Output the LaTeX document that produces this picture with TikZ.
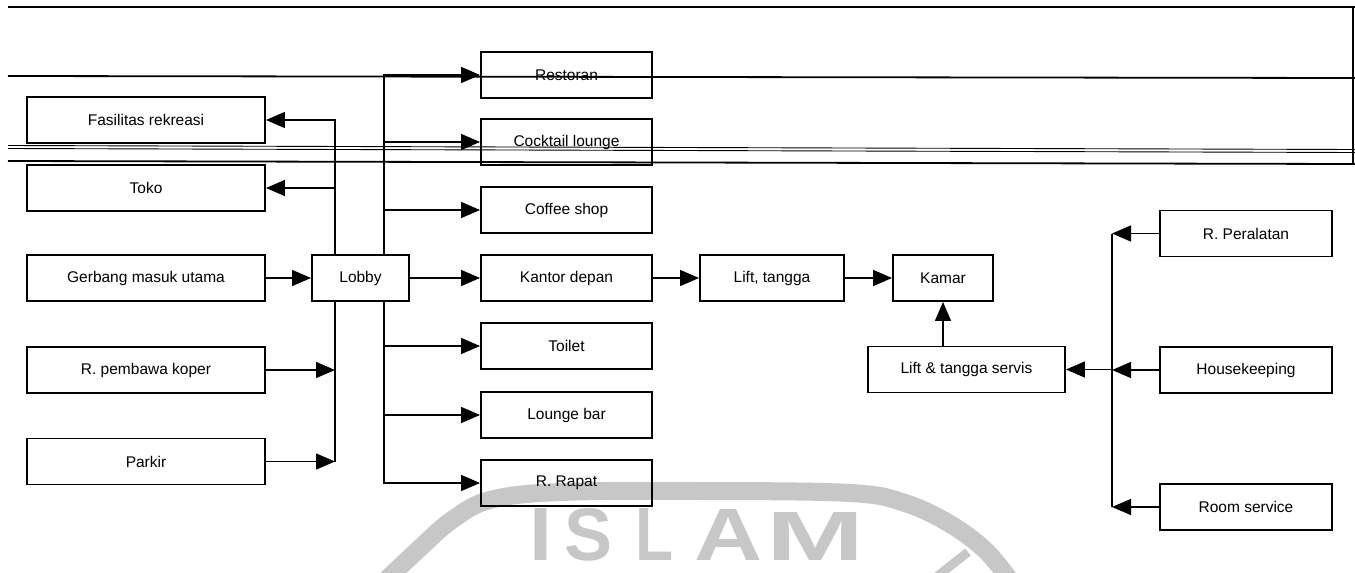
\documentclass[tikz,border=0pt]{standalone}
\usepackage{fontspec}
\usepackage{graphicx}
\setmainfont{Liberation Sans}
\usetikzlibrary{arrows.meta}
\tikzset{
  box/.style={draw=black, line width=1.9pt, inner sep=0pt, minimum height=46pt,
    font=\fontsize{15.5}{18}\selectfont},
  lbox/.style={box, minimum width=238pt},
  mbox/.style={box, minimum width=171pt},
  rbox/.style={box, minimum width=172pt},
  conn/.style={line width=1.4pt},
  arr/.style={conn, -{Triangle[length=19pt,width=16pt]}},
  scanline/.style={line width=1.8pt},
  wmark/.style={draw=black!22},
}
\begin{document}
\begin{tikzpicture}[x=1pt,y=-1pt]
\useasboundingbox (0,0) rectangle (1355,573);

% watermark (scanned logo)
\draw[wmark, line width=18pt] plot[smooth, tension=0.6] coordinates
  {(386,580) (420,548) (452,520) (490,500) (560,492) (700,491) (850,493) (905,503) (950,524) (985,550) (1010,580)};
\draw[wmark, line width=9pt] (935,578) -- (968,552);
\node[text=black!22, anchor=south west, inner sep=0pt] (wm) at (529.5,561)
  {\resizebox{23pt}{52pt}{\textbf{I}}\hspace*{12pt}\resizebox{48pt}{52pt}{\textbf{S}}\hspace*{23pt}\resizebox{38pt}{52pt}{\textbf{L}}\hspace*{21pt}\resizebox{68pt}{51pt}{\textbf{A}}\hspace*{4pt}\resizebox{98pt}{48pt}{\textbf{M}}};

% left column
\node[lbox] (fas)    at (146,120)   {Fasilitas rekreasi};
\node[lbox] (toko)   at (146,188)   {Toko};
\node[lbox] (gerb)   at (146,278)   {Gerbang masuk utama};
\node[lbox] (koper)  at (146,370)   {R. pembawa koper};
\node[lbox] (parkir) at (146,461.5) {Parkir};

% lobby
\node[box, minimum width=97pt] (lobby) at (360.5,278) {Lobby};

% middle column
\node[mbox] (resto)  at (566.5,75)  {Restoran};
\node[mbox] (cock)   at (566.5,142) {Cocktail lounge};
\node[mbox] (coffee) at (566.5,210) {Coffee shop};
\node[mbox] (kantor) at (566.5,278) {Kantor depan};
\node[mbox] (toilet) at (566.5,346) {Toilet};
\node[mbox] (lounge) at (566.5,415) {Lounge bar};
\node[mbox] (rapat)  at (566.5,483) {R. Rapat};

% right part
\node[box, minimum width=144pt] (lift)   at (772,278)    {Lift, tangga};
\node[box, minimum width=100pt] (kamar)  at (943,278)    {Kamar};
\node[box, minimum width=197pt] (servis) at (966.5,369.5) {Lift \& tangga servis};
\node[rbox] (peral) at (1246,233.5) {R. Peralatan};
\node[rbox] (house) at (1246,370)   {Housekeeping};
\node[rbox] (room)  at (1246,507)   {Room service};

% trunk coordinates
\coordinate (lt) at (335,0);
\coordinate (rt) at (384,0);
\coordinate (st) at (1112,0);

% left trunk
\draw[arr] (lt |- lobby.north) |- (fas.east);
\draw[arr] (lt |- toko.east) -- (toko.east);
\draw[conn] (lt |- lobby.south) -- (lt |- parkir.east);
\draw[arr] (koper.east) -- (koper.east -| lt);
\draw[arr] (parkir.east) -- (parkir.east -| lt);
\draw[arr] (gerb.east) -- (lobby.west);

% right trunk of lobby
\draw[arr] (rt |- lobby.north) |- (resto.west);
\draw[arr] (rt |- cock.west) -- (cock.west);
\draw[arr] (rt |- coffee.west) -- (coffee.west);
\draw[arr] (rt |- lobby.south) |- (rapat.west);
\draw[arr] (rt |- toilet.west) -- (toilet.west);
\draw[arr] (rt |- lounge.west) -- (lounge.west);
\draw[arr] (lobby.east) -- (kantor.west);

% chain to room
\draw[arr] (kantor.east) -- (lift.west);
\draw[arr] (lift.east) -- (kamar.west);
\draw[arr] (servis.north -| kamar.south) -- (kamar.south);

% service trunk
\draw[conn] (peral.west -| st) -- (room.west -| st);
\draw[arr] (peral.west) -- (peral.west -| st);
\draw[arr] (house.west) -- (house.west -| st);
\draw[arr] (room.west) -- (room.west -| st);
\draw[arr] (st |- servis.east) -- (servis.east);

% scan artefact lines
\draw[scanline] (8,7) -- (1355,7);
\draw[scanline] (8,76) -- (1355,78);
\draw[line width=0.9pt] (8,145.5) -- (1355,149.5);
\draw[line width=0.9pt] (8,148.5) -- (1355,152.5);
\draw[scanline] (8,161) -- (1355,164);
\draw[scanline] (1353,7) -- (1353,164);
\end{tikzpicture}
\end{document}
